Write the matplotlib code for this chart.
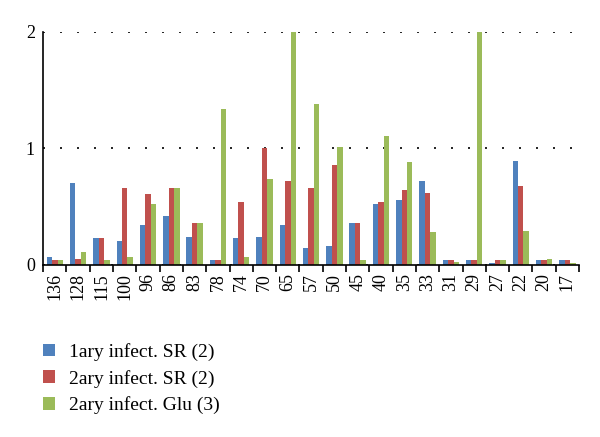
import matplotlib
matplotlib.use("Agg")
import matplotlib.pyplot as plt
import numpy as np

categories = ["136", "128", "115", "100", "96", "86", "83", "78", "74", "70", "65", "57",
              "50", "45", "40", "35", "33", "31", "29", "27", "22", "20", "17"]
primary_sr = [0.07, 0.70, 0.23, 0.21, 0.34, 0.42, 0.24, 0.04, 0.23, 0.24, 0.34, 0.15,
              0.16, 0.36, 0.52, 0.56, 0.72, 0.04, 0.04, 0.02, 0.89, 0.04, 0.04]
secondary_sr = [0.04, 0.05, 0.23, 0.66, 0.61, 0.66, 0.36, 0.04, 0.54, 1.00, 0.72, 0.66,
                0.86, 0.36, 0.54, 0.64, 0.62, 0.04, 0.04, 0.04, 0.68, 0.04, 0.04]
secondary_glu = [0.04, 0.11, 0.04, 0.07, 0.52, 0.66, 0.36, 1.34, 0.07, 0.74, 2.00, 1.38,
                 1.01, 0.04, 1.11, 0.88, 0.28, 0.03, 2.00, 0.04, 0.29, 0.05, 0.02]
series_labels = ["1ary infect. SR (2)", "2ary infect. SR (2)", "2ary infect. Glu (3)"]
colors = ["#4F81BD", "#C0504D", "#9BBB59"]

plt.rcParams['font.family'] = ['Liberation Serif', 'DejaVu Serif']

fig = plt.figure(figsize=(6.0, 4.37), dpi=100)
ax = fig.add_axes([0.072, 0.3936, 0.893, 0.5332])

x = np.arange(len(categories))
w = 0.235
for i, (vals, lab, c) in enumerate(zip([primary_sr, secondary_sr, secondary_glu], series_labels, colors)):
    ax.bar(x + (i - 1) * w, vals, width=w, color=c, label=lab, zorder=2)

ax.set_xlim(-0.5, len(categories) - 0.5)
ax.set_ylim(0, 2)
ax.set_yticks([0, 1, 2])
ax.set_yticklabels(["0", "1", "2"], fontsize=13)
ax.yaxis.grid(True, linestyle=(0, (1.2, 9)), color="black", linewidth=1.2, zorder=0)

ax.set_xticks(x)
ax.set_xticklabels(categories, rotation=90, fontsize=13)
ax.tick_params(axis='x', length=0, pad=6)
ax.set_xticks(np.arange(-0.5, len(categories)), minor=True)
ax.tick_params(axis='x', which='minor', length=5, width=1.2, color='black', direction='out')
ax.tick_params(axis='y', length=0, pad=6)

for s in ["top", "right"]:
    ax.spines[s].set_visible(False)
ax.spines["left"].set_linewidth(1.2)
ax.spines["bottom"].set_linewidth(1.2)

handles, labels = ax.get_legend_handles_labels()
fig.legend(handles, labels, loc="upper left", bbox_to_anchor=(0.058, 0.233),
           frameon=False, fontsize=14, handlelength=0.65, handleheight=0.65,
           handletextpad=0.7, labelspacing=0.45, borderaxespad=0)

fig.savefig("out.png", dpi=100)
